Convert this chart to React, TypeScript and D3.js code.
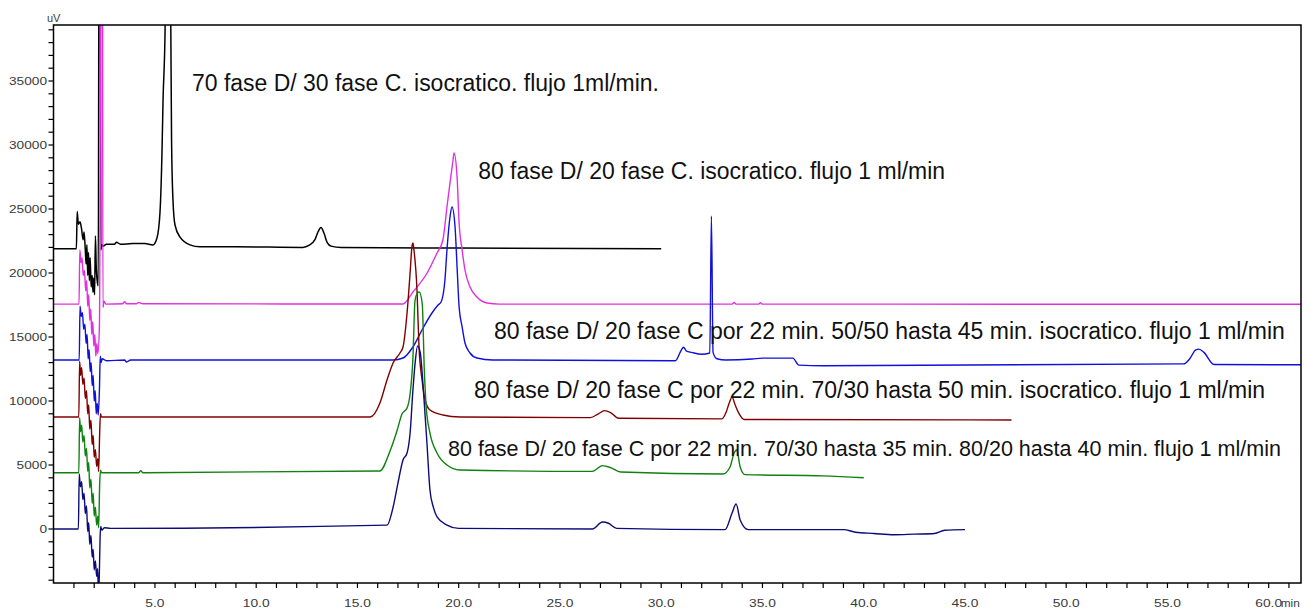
import React from "react";
import * as d3 from "d3";

// Retention time in minutes, detector signal in microvolts.
type Pt = [number, number];

// 70 D / 30 C isocratic run (stops at 30 min)
const run70Iso: Pt[] = [
  [0, 21900], [1.12, 21900], [1.16, 24800], [1.22, 23800], [1.3, 24000], [1.38, 23400],
  [1.45, 22600], [1.5, 23200], [1.56, 21800], [1.6, 20700], [1.64, 22200], [1.68, 19800],
  [1.72, 21600], [1.76, 19400], [1.8, 21200], [1.85, 18900], [1.9, 19800], [1.94, 18500],
  [1.98, 19600], [2.02, 18300], [2.06, 22900], [2.1, 20500], [2.14, 19500], [2.2, 19000],
  [2.25, 60000], [2.29, 60000], [2.33, 21800], [2.38, 22200], [2.45, 22100], [2.6, 22250],
  [3.0, 22250], [3.1, 22400], [3.3, 22250], [3.9, 22300], [4.5, 22300], [4.9, 22190],
  [5.1, 22730], [5.25, 24770], [5.35, 29610], [5.4, 33520], [5.5, 38980], [5.56, 48000],
  [5.62, 62000], [5.7, 50000], [5.78, 40000], [5.82, 30400], [5.89, 25700], [5.99, 23750],
  [6.24, 22800], [6.73, 22200], [7.22, 22050], [9.0, 22050], [12.3, 22000], [12.6, 22150],
  [12.9, 22600], [13.05, 23200], [13.2, 23550], [13.35, 23100], [13.5, 22400], [13.7, 22100],
  [14.2, 22000], [20.0, 21950], [30.0, 21900],
];

// 80 D / 20 C isocratic run
const run80Iso: Pt[] = [
  [0, 17570], [1.25, 17570], [1.29, 21800], [1.35, 20800], [1.4, 21200], [1.46, 19800],
  [1.52, 20200], [1.58, 18600], [1.63, 19400], [1.68, 17400], [1.73, 18300], [1.78, 16300],
  [1.83, 17200], [1.88, 15200], [1.93, 16200], [1.98, 14300], [2.03, 15200], [2.08, 13500],
  [2.13, 14500], [2.18, 13700], [2.26, 16000], [2.36, 60000], [2.4, 60000], [2.43, 17300],
  [2.48, 17800], [2.58, 17570], [3.4, 17600], [3.5, 17750], [3.6, 17600], [4.1, 17600],
  [4.2, 17700], [4.4, 17600], [17.25, 17578], [17.74, 18516], [18.44, 20000], [18.93, 21563],
  [19.22, 22578], [19.42, 25156], [19.57, 27031], [19.72, 28828], [19.77, 29375],
  [19.92, 27500], [20.02, 23906], [20.17, 21797], [20.31, 20234], [20.56, 18906],
  [20.9, 18125], [21.4, 17656], [22.0, 17570], [33.5, 17570], [33.6, 17700], [33.7, 17570],
  [34.8, 17570], [34.9, 17680], [35.0, 17570], [61.6, 17560],
];

// 80/20 for 22 min, 50/50 to 45 min
const run5050: Pt[] = [
  [0, 13200], [1.26, 13200], [1.3, 17400], [1.36, 16600], [1.42, 16900], [1.48, 15600],
  [1.54, 16000], [1.6, 14500], [1.65, 15200], [1.7, 13300], [1.75, 14000], [1.8, 12300],
  [1.85, 13000], [1.9, 11200], [1.95, 12000], [2.0, 10000], [2.05, 10800], [2.1, 9000],
  [2.15, 9800], [2.2, 8900], [2.26, 11000], [2.3, 13500], [2.34, 13000], [2.4, 13300],
  [2.6, 13150], [3.5, 13200], [3.6, 13050], [3.8, 13200], [16.76, 13203], [17.25, 13359],
  [17.74, 14219], [18.24, 15703], [18.68, 16875], [18.98, 17500], [19.13, 17734],
  [19.32, 19453], [19.42, 21797], [19.57, 24375], [19.67, 25156], [19.82, 23594],
  [19.92, 20469], [20.02, 17344], [20.17, 15781], [20.31, 14531], [20.56, 13750],
  [20.9, 13359], [21.69, 13203], [30.7, 13150], [31.0, 14000], [31.1, 14200], [31.25, 13900],
  [31.5, 13800], [32.0, 13650], [32.4, 13750], [32.48, 24450], [32.56, 13800], [32.75, 13300],
  [33.2, 13200], [34.5, 13280], [35.0, 13350], [36.5, 13350], [36.8, 12800], [38.0, 12750],
  [55.8, 12900], [56.1, 13300], [56.4, 14000], [56.55, 14050], [56.8, 13800], [57.3, 12850],
  [61.6, 12830],
];

// 80/20 for 22 min, 70/30 to 50 min (stops at 47.3 min)
const run7030to50: Pt[] = [
  [0, 8750], [1.24, 8750], [1.28, 13100], [1.33, 12000], [1.38, 12600], [1.44, 11300],
  [1.5, 11800], [1.56, 10200], [1.62, 10800], [1.68, 9000], [1.73, 9700], [1.78, 7800],
  [1.84, 8500], [1.9, 6600], [1.95, 7300], [2.0, 5600], [2.06, 6200], [2.12, 4900],
  [2.18, 5500], [2.22, 4500], [2.27, 7500], [2.31, 9000], [2.36, 8750], [15.63, 8750],
  [16.11, 9844], [16.46, 11641], [16.76, 12969], [17.1, 13750], [17.25, 14219],
  [17.45, 16875], [17.6, 20000], [17.69, 22031], [17.74, 22344], [17.79, 21797],
  [17.94, 18672], [18.04, 14219], [18.19, 11641], [18.34, 10078], [18.58, 9297],
  [19.22, 8906], [20.06, 8750], [26.5, 8700], [26.9, 9000], [27.2, 9250], [27.5, 9100],
  [27.9, 8650], [33.0, 8600], [33.2, 9100], [33.35, 9800], [33.5, 10300], [33.65, 9700],
  [33.85, 9000], [34.1, 8560], [47.3, 8520],
];

// 80/20 for 22 min, 70/30 to 35 min, 80/20 to 40 min
const run7030to35: Pt[] = [
  [0, 4400], [1.24, 4400], [1.28, 8700], [1.33, 7600], [1.38, 8100], [1.44, 6800],
  [1.5, 7300], [1.56, 5700], [1.62, 6300], [1.68, 4500], [1.73, 5200], [1.78, 3200],
  [1.84, 3900], [1.9, 2000], [1.95, 2800], [2.0, 1000], [2.06, 1700], [2.12, 300],
  [2.18, 1000], [2.22, 100], [2.27, 3500], [2.31, 4600], [2.36, 4400], [4.2, 4400],
  [4.3, 4550], [4.4, 4400], [16.1, 4530], [16.61, 6094], [16.95, 7656], [17.2, 8984],
  [17.45, 9453], [17.6, 10547], [17.74, 13359], [17.84, 17813], [17.95, 18400],
  [18.05, 18516], [18.2, 17600], [18.3, 12500], [18.4, 9453], [18.58, 7500], [18.93, 5938],
  [19.42, 5000], [20.06, 4609], [26.6, 4500], [27.1, 4950], [27.5, 4800], [28.0, 4450],
  [33.05, 4300], [33.4, 4844], [33.6, 5940], [33.73, 6170], [33.9, 4844], [34.14, 4250],
  [38.0, 4150], [40.0, 4000],
];

// Reference run on the true baseline (stops at 45 min)
const runBase: Pt[] = [
  [0, 0], [1.22, 0], [1.26, 4300], [1.32, 3300], [1.38, 3700], [1.44, 2300], [1.5, 2800],
  [1.56, 1200], [1.62, 1800], [1.68, -200], [1.73, 500], [1.78, -1200], [1.84, -500],
  [1.9, -2200], [1.95, -1600], [2.0, -3200], [2.06, -2500], [2.12, -3700], [2.17, -3100],
  [2.21, -5000], [2.25, -3800], [2.29, -700], [2.32, 200], [2.38, -100], [2.5, 100],
  [2.8, 50], [16.46, 300], [16.76, 1700], [17.0, 3590], [17.25, 5390], [17.45, 5940],
  [17.6, 7500], [17.74, 10860], [17.85, 13000], [17.97, 14300], [18.1, 13800],
  [18.25, 11000], [18.44, 6500], [18.58, 3050], [18.75, 1700], [18.93, 940], [19.42, 310],
  [20.0, 50], [26.6, 0], [27.1, 550], [27.4, 450], [27.8, 50], [33.15, -50], [33.5, 1250],
  [33.7, 1950], [33.9, 700], [34.3, -50], [39.0, -50], [39.6, -250], [40.5, -350],
  [41.5, -450], [42.5, -400], [43.5, -350], [44.0, -100], [45.0, -50],
];

const xMajorTicks = [5, 10, 15, 20, 25, 30, 35, 40, 45, 50, 55, 60];
const xTickLabels = ["5.0", "10.0", "15.0", "20.0", "25.0", "30.0", "35.0", "40.0", "45.0", "50.0", "55.0", "60.0"];
const yMajorTicks = [0, 5000, 10000, 15000, 20000, 25000, 30000, 35000];
const yTickLabels = ["0", "5000", "10000", "15000", "20000", "25000", "30000", "35000"];

const annotationLabels = [
  "70 fase D/ 30 fase C. isocratico. flujo 1ml/min.",
  "80 fase D/ 20 fase C. isocratico. flujo 1 ml/min",
  "80 fase D/ 20 fase C por 22 min. 50/50 hasta 45 min. isocratico. flujo 1 ml/min",
  "80 fase D/ 20 fase C por 22 min. 70/30 hasta 50 min. isocratico. flujo 1 ml/min",
  "80 fase D/ 20 fase C por 22 min. 70/30 hasta 35 min. 80/20 hasta 40 min. flujo 1 ml/min",
];

const W = 1309;
const H = 610;
const left = 53.5;
const right = 1301;
const top = 25;
const bottom = 583;

// tick labels are drawn in a wide bitmap-style face: fix their widths per glyph
const labelWidth = (s: string) =>
  s.split("").reduce((w, c) => w + (c === "." ? 4 : 7.6), 0);

export default function App() {
  const x = d3.scaleLinear().domain([0, 61.6]).range([53.7, 53.7 + 61.6 * 20.25]);
  const y = d3.scaleLinear().domain([-4219, 39375]).range([bottom, top]);
  const line = d3
    .line<Pt>()
    .x((d) => x(d[0]))
    .y((d) => y(d[1]))
    .curve(d3.curveMonotoneX);

  const traces: { data: Pt[]; color: string; width: number }[] = [
    { data: run70Iso, color: "#000000", width: 1.5 },
    { data: run80Iso, color: "#e030e0", width: 1.4 },
    { data: run5050, color: "#1010d8", width: 1.4 },
    { data: run7030to50, color: "#800000", width: 1.4 },
    { data: run7030to35, color: "#108010", width: 1.4 },
    { data: runBase, color: "#0c0c78", width: 1.4 },
  ];

  // anchor (minutes, µV) of each annotation's left baseline, font size and rendered width
  const annotationAnchors: [number, number, number, number][] = [
    [6.83, 34219, 23, 467],
    [20.96, 27344, 23, 467],
    [21.74, 14844, 23, 791],
    [20.76, 10234, 23, 791],
    [19.47, 5703, 22, 833],
  ];

  const minorX = d3.range(1, 62);
  const minorY = d3.range(-4000, 39001, 1000);
  const font = "'Liberation Sans', Arial, sans-serif";

  return (
    <svg
      width={W}
      height={H}
      style={{ position: "absolute", left: 0, top: 0, background: "#fff" }}
      fontFamily={font}
    >
      <defs>
        <clipPath id="plotClip">
          <rect x={left} y={top} width={right - left} height={bottom - top} />
        </clipPath>
      </defs>
      <rect x={0} y={0} width={W} height={H} fill="#fff" />

      <g clipPath="url(#plotClip)">
        {traces.map((t, i) => (
          <path
            key={i}
            d={line(t.data) || ""}
            fill="none"
            stroke={t.color}
            strokeWidth={t.width}
            strokeLinejoin="round"
          />
        ))}
      </g>

      {/* frame */}
      <rect x={left} y={top} width={right - left} height={bottom - top} fill="none" stroke="#000" strokeWidth={1.5} />

      {/* x ticks */}
      {minorX.map((v) => (
        <line key={"xt" + v} x1={x(v)} x2={x(v)} y1={bottom} y2={bottom + 5} stroke="#000" strokeWidth={1.2} />
      ))}
      {xMajorTicks.map((v, i) => (
        <text
          key={"xl" + v}
          x={x(v)}
          y={607}
          fontSize={11.5}
          fill="#3a3a3a"
          textAnchor="middle"
          textLength={labelWidth(xTickLabels[i])}
          lengthAdjust="spacingAndGlyphs"
        >
          {xTickLabels[i]}
        </text>
      ))}
      <text x={x(60) + 12} y={607} fontSize={11.5} fill="#3a3a3a" textLength={19} lengthAdjust="spacingAndGlyphs">
        min
      </text>

      {/* y ticks */}
      {minorY.map((v) => (
        <line key={"yt" + v} x1={left - 5} x2={left} y1={y(v)} y2={y(v)} stroke="#000" strokeWidth={1.2} />
      ))}
      {yMajorTicks.map((v, i) => (
        <text
          key={"yl" + v}
          x={47}
          y={y(v) + 4}
          fontSize={11.5}
          fill="#3a3a3a"
          textAnchor="end"
          textLength={labelWidth(yTickLabels[i])}
          lengthAdjust="spacingAndGlyphs"
        >
          {yTickLabels[i]}
        </text>
      ))}
      <text x={47} y={22} fontSize={11} fill="#3a3a3a">uV</text>

      {/* run annotations */}
      {annotationLabels.map((s, i) => {
        const [t, v, fs, w] = annotationAnchors[i];
        return (
          <text
            key={"an" + i}
            x={x(t)}
            y={y(v)}
            fontSize={fs}
            fill="#111"
            textLength={w}
            lengthAdjust="spacingAndGlyphs"
          >
            {s}
          </text>
        );
      })}
    </svg>
  );
}
